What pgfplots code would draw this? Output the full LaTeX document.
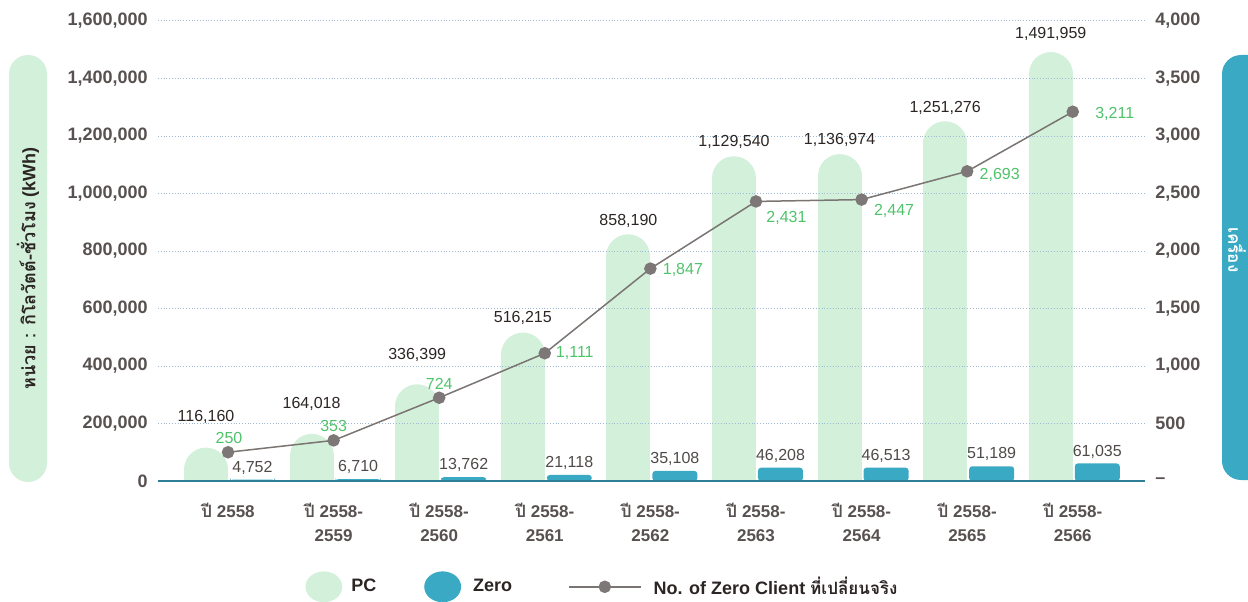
\documentclass[border=0pt]{standalone}
\usepackage{fontspec}
\setmainfont{Liberation Sans}
\newfontfamily\thaifont[Script=Thai]{Loma}
\usepackage{pgfplots}
\usepackage{pgfplotstable}
\pgfplotsset{compat=1.18}

\definecolor{pcgreen}{HTML}{D3F0DA}
\definecolor{zeroblue}{HTML}{3AA9C4}
\definecolor{linegray}{HTML}{7A7472}
\definecolor{markgray}{HTML}{7D7877}
\definecolor{lblgreen}{HTML}{4FC36B}
\definecolor{lbldark}{HTML}{2B2523}
\definecolor{zerolbl}{HTML}{4F4A48}
\definecolor{tickgray}{HTML}{575150}
\definecolor{gridblue}{HTML}{9DB9D3}
\definecolor{axisblue}{HTML}{2E7E98}

\newcommand{\T}[1]{{\thaifont #1}}

\pgfplotsset{
  linelegend/.style={legend image code/.code={\draw[##1, mark repeat=2, mark phase=2] plot coordinates {(0pt,0pt) (18pt,0pt) (36pt,0pt)};}},
  pclegend/.style={legend image code/.code={\fill[pcgreen] (9pt,0pt) ellipse [x radius=9pt, y radius=7.5pt];}},
  zerolegend/.style={legend image code/.code={\fill[zeroblue] (9pt,0pt) ellipse [x radius=9pt, y radius=7.5pt];}},
}

% energy (kWh): PC and Zero; off = label offset above PC bar top (pt)
\pgfplotstableread{
x pc zero off
0 116160 4752 15.5
1 164018 6710 15
2 336399 13762 14.5
3 516215 21118 7.5
4 858190 35108 6.5
5 1129540 46208 7
6 1136974 46513 7
7 1251276 51189 6.5
8 1491959 61035 9
}\energy

% number of zero clients; dx, dy = label offset (pt)
\pgfplotstableread{
x n dx dy
0 250 0.5 7
1 353 0 7
2 724 0 7
3 1111 15 0
4 1847 16.25 -0.5
5 2431 15.25 -8
6 2447 16.25 -5.5
7 2693 16.25 -2
8 3211 21 -1
}\clients

\begin{document}
\begin{tikzpicture}
\useasboundingbox (0,0) rectangle (624pt,300.5pt);
% side pills
\fill[pcgreen, rounded corners=9.5pt] (4.5pt,59.5pt) rectangle (23.5pt,273pt);
\node[rotate=90, font=\bfseries\fontsize{9}{11}\selectfont, text=lbldark, inner sep=0pt] at (14pt,166.25pt) {\T{หน่วย : กิโลวัตต์-ชั่วโมง} (kWh)};
\fill[zeroblue, rounded corners=9.5pt] (611pt,60.5pt) rectangle (640pt,273pt);
\node[rotate=-90, font=\bfseries\fontsize{8.5}{10}\selectfont, text=white, inner sep=0pt] at (618.5pt,175.5pt) {\T{เครื่อง}};

\begin{axis}[
  at={(79pt,60pt)}, anchor=south west,
  width=493.5pt, height=230pt, scale only axis,
  xmin=-0.663, xmax=8.684,
  ymin=0, ymax=1600000,
  axis on top,
  axis x line*=bottom, axis y line*=left,
  x axis line style={-, draw=axisblue, line width=1pt},
  y axis line style={draw=none},
  major tick length=0pt,
  xtick={0,1,2,3,4,5,6,7,8},
  xticklabels={{\T{ปี} 2558},{\T{ปี} 2558-\\2559},{\T{ปี} 2558-\\2560},{\T{ปี} 2558-\\2561},{\T{ปี} 2558-\\2562},{\T{ปี} 2558-\\2563},{\T{ปี} 2558-\\2564},{\T{ปี} 2558-\\2565},{\T{ปี} 2558-\\2566}},
  xticklabel style={anchor=north, inner sep=0pt, yshift=-11pt, align=center, font=\bfseries\fontsize{8.5}{12}\selectfont, text=tickgray},
  ytick={0,200000,400000,600000,800000,1000000,1200000,1400000,1600000},
  scaled y ticks=false,
  /pgf/number format/assume math mode=true,
  /pgf/number format/fixed,
  /pgf/number format/precision=0,
  /pgf/number format/1000 sep={,},
  yticklabel style={anchor=east, inner sep=0pt, xshift=-5pt, font=\bfseries\fontsize{9}{11}\selectfont, text=tickgray},
  ymajorgrids,
  grid style={gridblue, densely dotted, line width=0.5pt},
]
% PC bars (rounded tops)
\addplot[ycomb, draw=pcgreen, line width=22pt, line cap=round, xshift=-11pt, yshift=-11pt, mark=none]
  table[x=x, y=pc] {\energy};
% Zero bars
\addplot[ybar, /pgf/bar width=22.5pt, /pgf/bar shift=12.25pt, fill=zeroblue, draw=none, rounded corners=1.5pt]
  table[x=x, y=zero] {\energy};
% PC labels
\addplot[draw=none, mark=none, point meta=y,
  nodes near coords={\pgfmathprintnumber{\pgfplotspointmeta}},
  visualization depends on={\thisrow{off} \as \off},
  every node near coord/.append style={anchor=center, inner sep=0pt, xshift=-11pt, yshift=\off pt, font=\fontsize{8}{10}\selectfont, text=lbldark}]
  table[x=x, y=pc] {\energy};
% Zero labels
\addplot[draw=none, mark=none, point meta=y,
  nodes near coords={\pgfmathprintnumber{\pgfplotspointmeta}},
  every node near coord/.append style={anchor=center, inner sep=0pt, xshift=12.25pt, yshift=6pt, font=\fontsize{8}{10}\selectfont, text=zerolbl}]
  table[x=x, y=zero] {\energy};
\end{axis}

\begin{axis}[
  at={(79pt,60pt)}, anchor=south west,
  width=493.5pt, height=230pt, scale only axis,
  xmin=-0.663, xmax=8.684,
  ymin=0, ymax=4000,
  axis x line=none,
  axis y line*=right,
  y axis line style={draw=none},
  major tick length=0pt,
  xtick=\empty,
  ytick={0,500,1000,1500,2000,2500,3000,3500,4000},
  yticklabels={--,500,{1,000},{1,500},{2,000},{2,500},{3,000},{3,500},{4,000}},
  yticklabel style={anchor=west, inner sep=0pt, xshift=5pt, font=\bfseries\fontsize{9}{11}\selectfont, text=tickgray},
  /pgf/number format/assume math mode=true,
  /pgf/number format/fixed,
  /pgf/number format/precision=0,
  /pgf/number format/1000 sep={,},
  legend columns=-1,
  legend style={draw=none, fill=none, inner sep=0pt, at={(0.149,-0.230)}, anchor=west,
    font=\bfseries\fontsize{9}{10}\selectfont, text=lbldark,
    nodes={inner sep=0pt},
    /tikz/column 1/.style={column sep=4.5pt},
    /tikz/column 2/.style={column sep=24pt},
    /tikz/column 3/.style={column sep=6pt},
    /tikz/column 4/.style={column sep=28pt},
    /tikz/column 5/.style={column sep=6pt}},
]
\addlegendimage{pclegend}
\addlegendentry{PC}
\addlegendimage{zerolegend}
\addlegendentry{Zero}
\addplot[color=linegray, line width=0.75pt, mark=*, mark size=2.75pt, mark options={fill=markgray, draw=markgray}, linelegend]
  table[x=x, y=n] {\clients};
\addlegendentry{No. of Zero Client {\fontsize{8.5}{10}\selectfont\T{ที่เปลี่ยนจริง}}}
% line value labels
\addplot[draw=none, mark=none, point meta=y, forget plot,
  nodes near coords={\pgfmathprintnumber{\pgfplotspointmeta}},
  visualization depends on={\thisrow{dx} \as \dx},
  visualization depends on={\thisrow{dy} \as \dy},
  every node near coord/.append style={anchor=center, inner sep=0pt, xshift=\dx pt, yshift=\dy pt, font=\fontsize{8}{10}\selectfont, text=lblgreen}]
  table[x=x, y=n] {\clients};
\end{axis}
\end{tikzpicture}
\end{document}
